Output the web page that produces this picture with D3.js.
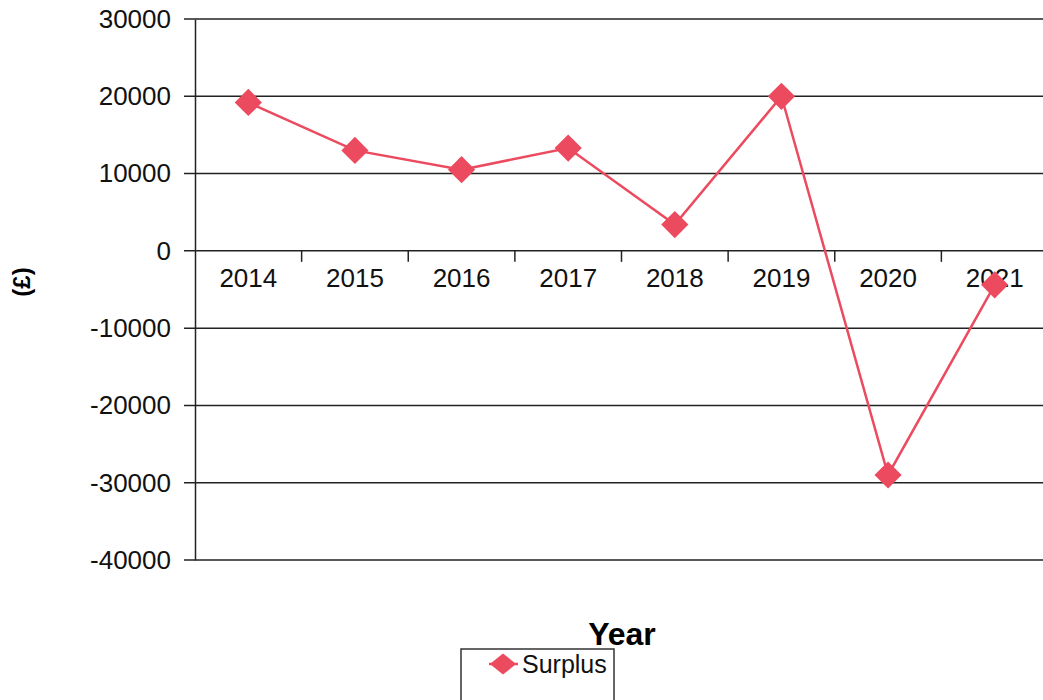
<html>
<script src="https://d3js.org/d3.v7.min.js"></script>
<body style="margin:0;background:#fff"></body>
<script>
const years = ['2014','2015','2016','2017','2018','2019','2020','2021'];
const surplus = [19200, 13000, 10500, 13300, 3400, 20000, -29000, -4400];
const yTicks = [30000, 20000, 10000, 0, -10000, -20000, -30000, -40000];

const width = 1043, height = 700;
const red = '#ec4a5f';
const font = 'Liberation Sans, Arial, sans-serif';

const svg = d3.select('body').append('svg')
  .attr('width', width).attr('height', height)
  .style('font-family', font);

const x = d3.scaleBand().domain(years).range([195, 1048]);
const y = d3.scaleLinear().domain([-40000, 30000]).range([560, 19]);

// gridlines
svg.append('g')
  .selectAll('line').data(yTicks).enter().append('line')
  .attr('x1', 184).attr('x2', width)
  .attr('y1', d=>y(d)).attr('y2', d=>y(d))
  .attr('stroke', '#222').attr('stroke-width', 1.5);

// y axis
const yAxis = svg.append('g')
  .attr('transform', 'translate(195,0)')
  .call(d3.axisLeft(y).tickValues(yTicks).tickSize(0).tickPadding(24).tickFormat(d=>String(d)));
yAxis.select('.domain').attr('stroke', '#222').attr('stroke-width', 1.5);
yAxis.selectAll('text').attr('font-size', 26).attr('font-family', font).attr('fill', '#111');

// x axis on the zero line
const xAxis = svg.append('g')
  .attr('transform', `translate(0,${y(0)})`)
  .call(d3.axisBottom(x).tickSize(0).tickPadding(18));
xAxis.select('.domain').remove();
xAxis.selectAll('text').attr('font-size', 26).attr('font-family', font).attr('fill', '#111');
svg.append('g').selectAll('line').data(years.slice(1)).enter().append('line')
  .attr('x1', d=>x(d)).attr('x2', d=>x(d))
  .attr('y1', y(0)).attr('y2', y(0) + 11)
  .attr('stroke', '#222').attr('stroke-width', 1.5);

// series line
const line = d3.line().x((d,i)=>x(years[i]) + x.bandwidth()/2).y(d=>y(d));
svg.append('path').datum(surplus)
  .attr('d', line).attr('fill', 'none')
  .attr('stroke', red).attr('stroke-width', 2.5);

const marker = d3.symbol().type(d3.symbolSquare).size(370);
svg.append('g').selectAll('path').data(surplus).enter().append('path')
  .attr('d', marker())
  .attr('transform', (d,i)=>`translate(${x(years[i]) + x.bandwidth()/2},${y(d)}) rotate(45)`)
  .attr('fill', red);

// axis titles
svg.append('text')
  .attr('transform', 'translate(30,282) rotate(-90)')
  .attr('text-anchor', 'middle')
  .attr('font-size', 24).attr('font-weight', 'bold')
  .text('(£)');

svg.append('text')
  .attr('x', 622).attr('y', 645)
  .attr('text-anchor', 'middle')
  .attr('font-size', 32).attr('font-weight', 'bold')
  .text('Year');

// legend
const legend = svg.append('g');
legend.append('rect')
  .attr('x', 461).attr('y', 649).attr('width', 153).attr('height', 70)
  .attr('fill', 'none').attr('stroke', '#333').attr('stroke-width', 1.5);
legend.append('line')
  .attr('x1', 489).attr('x2', 518).attr('y1', 664).attr('y2', 664)
  .attr('stroke', red).attr('stroke-width', 2.5);
legend.append('path')
  .attr('d', marker.size(220)())
  .attr('transform', 'translate(503,664) scale(1.25,1) rotate(45)')
  .attr('fill', red);
legend.append('text')
  .attr('x', 522).attr('y', 673)
  .attr('font-size', 25).attr('fill', '#111')
  .text('Surplus');
</script>
</html>
